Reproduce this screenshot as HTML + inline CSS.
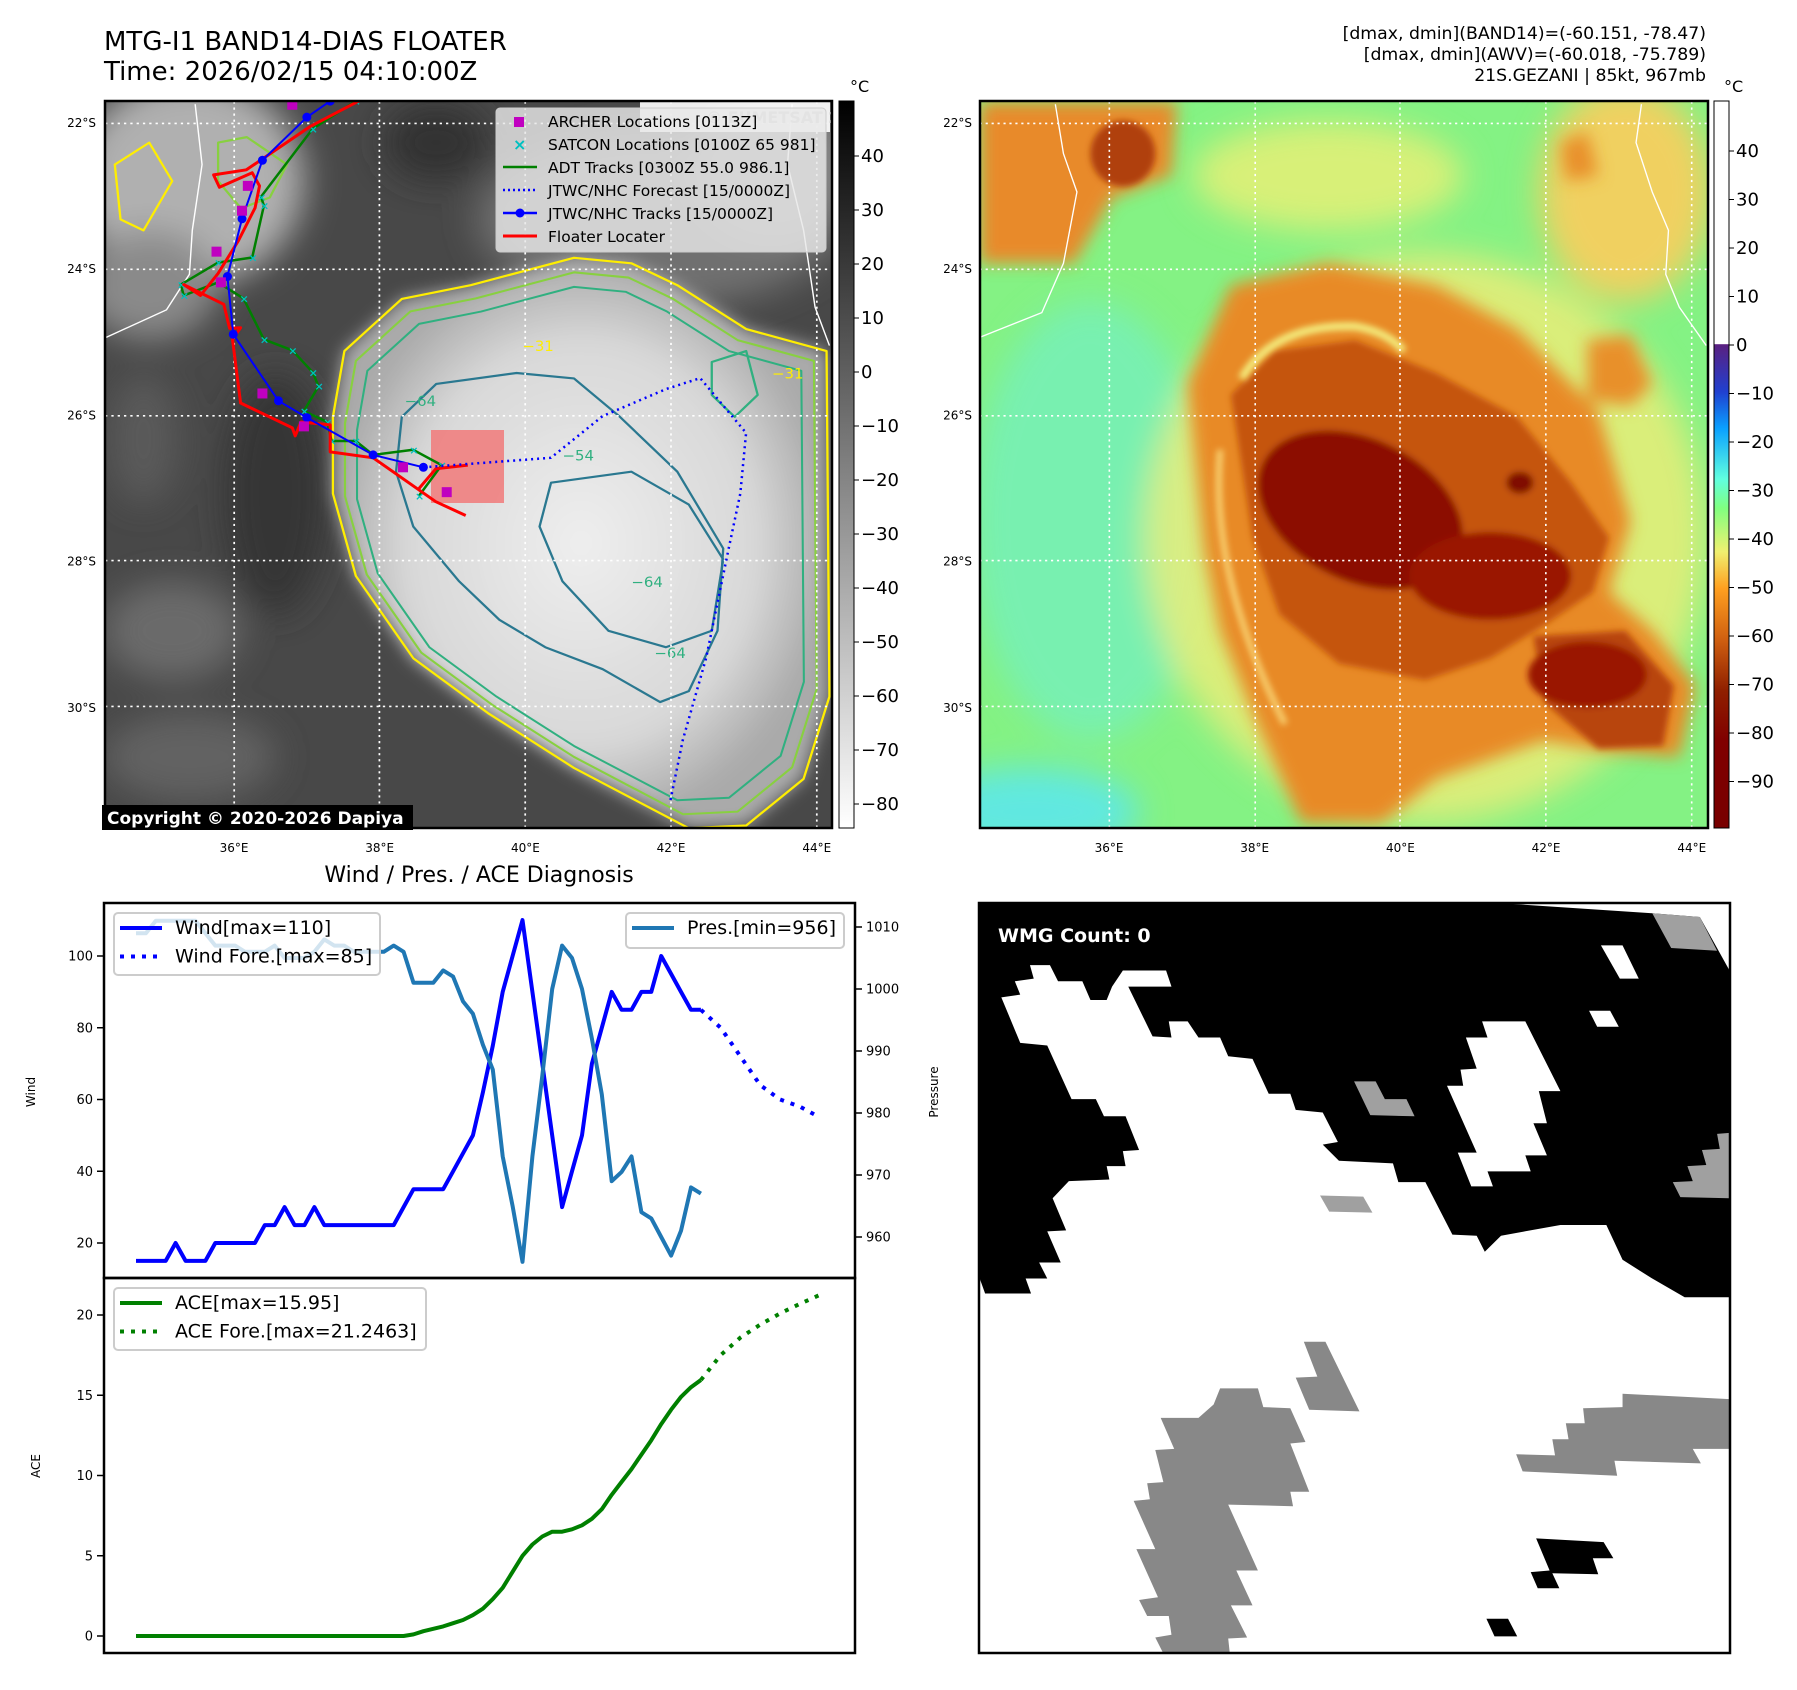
<!DOCTYPE html>
<html><head><meta charset="utf-8">
<style>
html,body{margin:0;padding:0;background:#fff;}
body{width:1797px;height:1690px;overflow:hidden;font-family:"Liberation Sans","DejaVu Sans",sans-serif;}
svg{position:absolute;left:0;top:0;}
text{font-family:"DejaVu Sans","Liberation Sans",sans-serif;}
</style></head>
<body>
<svg id="main" width="1797" height="1690" viewBox="0 0 1797 1690">
<defs>
  <clipPath id="clipL"><rect x="105" y="101" width="727" height="727"/></clipPath>
  <clipPath id="clipR"><rect x="980" y="101" width="728" height="727"/></clipPath>
  <clipPath id="clipW"><rect x="979" y="903" width="751" height="750"/></clipPath>
  <filter id="b6" x="-20%" y="-20%" width="140%" height="140%"><feGaussianBlur stdDeviation="6"/></filter>
  <filter id="b15" x="-30%" y="-30%" width="160%" height="160%"><feGaussianBlur stdDeviation="15"/></filter>
  <filter id="b30" x="-30%" y="-30%" width="160%" height="160%"><feGaussianBlur stdDeviation="30"/></filter>
  <linearGradient id="cbGray" x1="0" y1="0" x2="0" y2="1">
    <stop offset="0" stop-color="#000"/><stop offset="1" stop-color="#fff"/>
  </linearGradient>
  <linearGradient id="cbColor" x1="0" y1="101" x2="0" y2="828" gradientUnits="userSpaceOnUse">
    <stop offset="0" stop-color="#ffffff"/>
    <stop offset="0.334" stop-color="#ffffff"/>
    <stop offset="0.335" stop-color="#5a2080"/>
    <stop offset="0.40" stop-color="#2040d0"/>
    <stop offset="0.45" stop-color="#0aa0ff"/>
    <stop offset="0.52" stop-color="#60ffe0"/>
    <stop offset="0.56" stop-color="#80ff80"/>
    <stop offset="0.62" stop-color="#f0f070"/>
    <stop offset="0.67" stop-color="#ffa020"/>
    <stop offset="0.74" stop-color="#d06010"/>
    <stop offset="0.81" stop-color="#902000"/>
    <stop offset="0.88" stop-color="#800000"/>
    <stop offset="1" stop-color="#780000"/>
  </linearGradient>
  <radialGradient id="cloudL" cx="0.5" cy="0.5" r="0.5">
    <stop offset="0" stop-color="#eeeeee"/><stop offset="0.7" stop-color="#d8d8d8"/><stop offset="1" stop-color="#aaaaaa"/>
  </radialGradient>
</defs>

<text x="104" y="50" font-size="26" fill="#000">MTG-I1 BAND14-DIAS FLOATER</text>
<text x="104" y="80" font-size="26" fill="#000">Time: 2026/02/15 04:10:00Z</text>
<g font-size="17.3" text-anchor="end" fill="#000">
  <text x="1706" y="39">[dmax, dmin](BAND14)=(-60.151, -78.47)</text>
  <text x="1706" y="60">[dmax, dmin](AWV)=(-60.018, -75.789)</text>
  <text x="1706" y="81">21S.GEZANI | 85kt, 967mb</text>
</g>

<!-- LEFT MAP -->
<g clip-path="url(#clipL)">
  <rect x="105" y="101" width="727" height="727" fill="#484848"/>
  <g transform="scale(0.574,0.5485)">
    <g filter="url(#b30)">
      <ellipse cx="330" cy="330" rx="200" ry="190" fill="#b0b0b0"/>
      <ellipse cx="260" cy="520" rx="120" ry="100" fill="#8a8a8a"/>
      <ellipse cx="1150" cy="400" rx="320" ry="160" fill="#707070"/>
      <ellipse cx="1350" cy="300" rx="150" ry="140" fill="#858585"/>
      <ellipse cx="300" cy="1150" rx="120" ry="90" fill="#6a6a6a"/>
      <ellipse cx="330" cy="1380" rx="150" ry="80" fill="#626262"/>
      <ellipse cx="760" cy="260" rx="90" ry="70" fill="#333"/>
      <ellipse cx="480" cy="900" rx="90" ry="220" fill="#353535"/>
      <ellipse cx="250" cy="800" rx="60" ry="120" fill="#5a5a5a"/>
    </g>
    <path d="M600,640 L700,545 L820,520 L1000,470 L1100,480 L1180,520 L1300,600 L1440,640 L1445,1270 L1400,1420 L1300,1505 L1200,1510 L1000,1400 L850,1300 L720,1200 L620,1050 L580,900 L580,760 Z" fill="url(#cloudL)" filter="url(#b15)"/>
    <g fill="none" stroke-width="4" stroke-linejoin="round">
      <path d="M600,640 L700,545 L820,520 L1000,470 L1100,480 L1180,520 L1300,600 L1440,640 L1445,1270 L1400,1420 L1300,1505 L1200,1510 L1000,1400 L850,1300 L720,1200 L620,1050 L580,900 L580,760 Z" stroke="#ffee00"/>
      <path d="M600,640 L700,545 L820,520 L1000,470 L1100,480 L1180,520 L1300,600 L1440,640 L1445,1270 L1400,1420 L1300,1505 L1200,1510 L1000,1400 L850,1300 L720,1200 L620,1050 L580,900 L580,760 Z" stroke="#88d040" transform="translate(1000,1000) scale(0.95) translate(-1000,-1000)"/>
      <path d="M600,640 L700,545 L820,520 L1000,470 L1100,480 L1180,520 L1300,600 L1440,640 L1445,1270 L1400,1420 L1300,1505 L1200,1510 L1000,1400 L850,1300 L720,1200 L620,1050 L580,900 L580,760 Z" stroke="#30b080" transform="translate(1000,1000) scale(0.9) translate(-1000,-1000)"/>
      <path d="M700,760 L760,700 L900,680 L1000,690 L1080,760 L1180,860 L1260,1000 L1250,1150 L1200,1260 L1150,1280 L1050,1220 L950,1180 L870,1130 L800,1060 L720,960 L690,860 Z" stroke="#2a7890"/>
      <path d="M960,880 L1100,860 L1200,920 L1260,1020 L1240,1150 L1160,1180 L1060,1150 L980,1060 L940,960 Z" stroke="#2a7890"/>
      <path d="M380,260 L430,250 L500,300 L470,360 L420,380 L380,330 Z" stroke="#88d040"/>
      <path d="M200,300 L260,260 L300,330 L250,420 L210,400 Z" stroke="#ffee00"/>
      <path d="M1240,660 L1300,640 L1320,720 L1280,760 L1240,720 Z" stroke="#30b080"/>
    </g>
    <g font-size="26" fill="#30b080">
      <text x="705" y="740">−64</text><text x="980" y="840">−54</text><text x="1100" y="1070">−64</text><text x="1140" y="1200">−64</text>
    </g>
    <g font-size="26" fill="#ffee00"><text x="910" y="640">−31</text><text x="1345" y="690">−31</text></g>
    <g fill="none" stroke="#fff" stroke-width="2.5">
      <path d="M340,190 L352,300 L335,420 L330,500 L290,565 L185,615"/>
      <path d="M1380,190 L1372,300 L1400,420 L1420,560 L1445,630"/>
    </g>
    <g stroke="#fff" stroke-width="3" stroke-dasharray="4,7" fill="none">
      <line x1="408" y1="185" x2="408" y2="1510"/><line x1="661" y1="185" x2="661" y2="1510"/>
      <line x1="915" y1="185" x2="915" y2="1510"/><line x1="1169" y1="185" x2="1169" y2="1510"/>
      <line x1="1423" y1="185" x2="1423" y2="1510"/>
      <line x1="183" y1="225" x2="1450" y2="225"/><line x1="183" y1="491" x2="1450" y2="491"/>
      <line x1="183" y1="758" x2="1450" y2="758"/><line x1="183" y1="1022" x2="1450" y2="1022"/>
      <line x1="183" y1="1288" x2="1450" y2="1288"/>
    </g>
  </g>
  <rect x="431" y="430" width="73" height="73" fill="#f08080" opacity="0.9"/>
  <g id="tracks"></g>
  <rect x="640" y="102" width="190" height="30" fill="#fff" opacity="0.9"/>
  <text x="706" y="123" font-size="16" font-weight="bold" fill="#ccc">© EUMETSAT 2026</text>
</g>
<rect x="105" y="101" width="727" height="727" fill="none" stroke="#000" stroke-width="2.5"/>
<g>
  <rect x="496" y="108" width="330" height="144" rx="4" fill="#e8e8e8" fill-opacity="0.82" stroke="#ccc"/>
  <g font-size="15.5" fill="#000">
    <rect x="514" y="117" width="10" height="10" fill="#c000c0"/>
    <text x="548" y="127">ARCHER Locations [0113Z]</text>
    <text x="513" y="150" font-size="16" font-weight="bold" fill="#00c0c0">×</text>
    <text x="548" y="150">SATCON Locations [0100Z 65 981]</text>
    <line x1="503" y1="167" x2="537" y2="167" stroke="#008000" stroke-width="2.5"/>
    <text x="548" y="173">ADT Tracks [0300Z 55.0 986.1]</text>
    <line x1="503" y1="190" x2="537" y2="190" stroke="#0000ff" stroke-width="2.5" stroke-dasharray="2,3"/>
    <text x="548" y="196">JTWC/NHC Forecast [15/0000Z]</text>
    <line x1="503" y1="213" x2="537" y2="213" stroke="#0000ff" stroke-width="2.5"/>
    <circle cx="520" cy="213" r="4.5" fill="#0000ff"/>
    <text x="548" y="219">JTWC/NHC Tracks [15/0000Z]</text>
    <line x1="503" y1="236" x2="537" y2="236" stroke="#ff0000" stroke-width="3"/>
    <text x="548" y="242">Floater Locater</text>
  </g>
</g>
<rect x="102" y="805" width="311" height="25" fill="#000"/>
<text x="107" y="824" font-size="17" font-weight="bold" fill="#fff">Copyright © 2020-2026 Dapiya</text>

<g>
  <rect x="839" y="101" width="15" height="727" fill="url(#cbGray)" stroke="#000" stroke-width="1"/>
  <text x="850" y="92" font-size="16">°C</text>
  <g id="cbLticks" font-size="18"></g>
</g>

<!-- RIGHT MAP -->
<g clip-path="url(#clipR)">
  <rect x="980" y="101" width="728" height="727" fill="#84f284"/>
  <g transform="translate(950,0) scale(0.5402,0.5485)">
    <g filter="url(#b30)">
      <ellipse cx="260" cy="950" rx="220" ry="400" fill="#78f0b0"/>
      <ellipse cx="150" cy="1480" rx="200" ry="80" fill="#60e8e0"/>
      <ellipse cx="880" cy="980" rx="520" ry="520" fill="#f0ec78" opacity="0.8"/>
      <ellipse cx="700" cy="320" rx="250" ry="100" fill="#d8f078"/>
      <ellipse cx="1250" cy="350" rx="160" ry="200" fill="#f0d060"/>
    </g>
    <g filter="url(#b15)">
      <path d="M55,185 L420,185 L410,320 L300,360 L230,480 L55,480 Z" fill="#e88a2a"/>
      <path d="M470,1000 L440,700 L520,520 L700,480 L900,520 L1050,600 L1200,750 L1260,950 L1220,1080 L1300,1150 L1380,1250 L1350,1380 L1220,1370 L1100,1350 L900,1420 L800,1500 L650,1500 L560,1300 L500,1150 Z" fill="#e88a25"/>
      <path d="M1180,620 L1260,610 L1300,700 L1260,740 L1180,730 Z" fill="#e8902a"/>
      <path d="M1130,260 L1180,240 L1200,320 L1140,330 Z" fill="#e8902a"/>
    </g>
    <g filter="url(#b6)">
      <path d="M520,720 L600,640 L750,620 L900,680 L1050,760 L1150,880 L1220,980 L1190,1080 L1100,1140 L1000,1200 L880,1240 L720,1210 L610,1120 L560,980 L540,850 Z" fill="#c55510"/>
      <path d="M1080,1160 L1250,1150 L1340,1250 L1320,1360 L1200,1365 L1100,1280 Z" fill="#b84408"/>
      <ellipse cx="760" cy="930" rx="200" ry="130" transform="rotate(25 760 930)" fill="#8c0c00"/>
      <ellipse cx="1000" cy="1050" rx="150" ry="80" fill="#9a1800"/>
      <ellipse cx="1180" cy="1230" rx="110" ry="60" fill="#9a1800"/>
      <ellipse cx="320" cy="280" rx="60" ry="60" fill="#b04010"/>
      <ellipse cx="1055" cy="880" rx="25" ry="20" fill="#801000"/>
    </g>
    <path d="M540,690 Q600,590 750,595 Q810,605 840,640" fill="none" stroke="#f4f080" stroke-width="14" filter="url(#b6)"/>
    <path d="M500,820 Q480,1050 620,1320" fill="none" stroke="#f8d070" stroke-width="12" filter="url(#b6)"/>
    <g fill="none" stroke="#fff" stroke-width="2.5">
      <path d="M195,190 L210,280 L235,350 L210,480 L170,570 L55,615"/>
      <path d="M1280,190 L1270,260 L1300,350 L1330,420 L1325,500 L1350,560 L1400,630"/>
    </g>
    <g stroke="#fff" stroke-width="3" stroke-dasharray="4,7" fill="none">
      <line x1="295" y1="185" x2="295" y2="1510"/><line x1="565" y1="185" x2="565" y2="1510"/>
      <line x1="833" y1="185" x2="833" y2="1510"/><line x1="1103" y1="185" x2="1103" y2="1510"/>
      <line x1="1373" y1="185" x2="1373" y2="1510"/>
      <line x1="55" y1="225" x2="1402" y2="225"/><line x1="55" y1="491" x2="1402" y2="491"/>
      <line x1="55" y1="758" x2="1402" y2="758"/><line x1="55" y1="1022" x2="1402" y2="1022"/>
      <line x1="55" y1="1288" x2="1402" y2="1288"/>
    </g>
  </g>
</g>
<rect x="980" y="101" width="728" height="727" fill="none" stroke="#000" stroke-width="2.5"/>
<g>
  <rect x="1714" y="101" width="15" height="727" fill="url(#cbColor)" stroke="#000" stroke-width="1"/>
  <text x="1724" y="92" font-size="16">°C</text>
  <g id="cbRticks" font-size="18"></g>
</g>
<g id="mapTicks" font-size="12" fill="#000"></g>

<!-- WMG panel -->
<g clip-path="url(#clipW)">
  <rect x="979" y="903" width="751" height="750" fill="#fff"/>
  <g transform="translate(950,850) scale(0.5402,0.5357)">
    <path fill="#000" d="M55,98 L1443,98 L1443,835 L1360,835 L1300,800 L1245,765 L1215,700 L1130,700 L1020,720 L990,750 L975,720 L930,718 L880,620 L830,620 L820,585 L720,580 L690,550 L718,545 L690,490 L640,485 L630,455 L590,455 L560,390 L515,385 L500,350 L460,350 L440,320 L405,320 L410,350 L375,348 L330,255 L410,255 L400,225 L320,225 L300,255 L290,280 L260,280 L245,245 L200,245 L185,215 L148,215 L155,240 L120,245 L130,270 L95,275 L130,360 L180,365 L225,465 L270,465 L285,497 L325,497 L350,560 L320,562 L325,590 L290,590 L295,615 L220,618 L190,650 L215,710 L180,712 L205,770 L165,770 L180,800 L140,800 L150,828 L65,828 L55,800 Z"/>
    <g fill="#fff">
      <path d="M985,320 L1065,320 L1130,450 L1090,450 L1105,510 L1080,510 L1105,570 L1065,570 L1075,600 L995,600 L1005,628 L965,628 L940,565 L975,565 L920,440 L950,440 L945,410 L975,408 L955,350 L995,350 Z"/>
      <path d="M1205,178 L1245,178 L1275,240 L1240,240 Z"/>
      <path d="M1183,300 L1222,300 L1238,330 L1198,330 Z"/>
      <path d="M1000,98 L1443,98 L1443,225 L1388,125 L1300,118 Z"/>
    </g>
    <g fill="#a0a0a0">
      <path d="M1300,118 L1388,125 L1420,188 L1335,183 Z"/>
      <path d="M748,432 L788,432 L805,465 L845,465 L860,497 L778,495 Z"/>
      <path d="M685,645 L765,647 L782,677 L702,675 Z"/>
      <path d="M1420,530 L1443,528 L1443,650 L1352,648 L1338,620 L1375,618 L1365,590 L1400,588 L1392,560 L1425,558 Z"/>
    </g>
    <g fill="#888">
      <path d="M390,1060 L460,1060 L488,1035 L500,1005 L570,1005 L580,1040 L630,1042 L658,1105 L630,1108 L665,1198 L630,1198 L635,1225 L515,1222 L570,1345 L530,1345 L560,1410 L520,1410 L550,1470 L515,1472 L518,1500 L395,1500 L380,1470 L410,1465 L405,1430 L365,1430 L350,1400 L385,1395 L345,1305 L380,1305 L340,1215 L370,1212 L365,1182 L395,1180 L380,1120 L415,1118 Z"/>
      <path d="M655,918 L695,918 L758,1048 L665,1045 L640,985 L680,983 Z"/>
      <path d="M1245,1015 L1443,1025 L1443,1118 L1375,1118 L1390,1145 L1230,1140 L1235,1168 L1060,1160 L1048,1128 L1120,1130 L1115,1100 L1145,1100 L1140,1070 L1175,1070 L1172,1042 L1245,1040 Z"/>
    </g>
    <g fill="#000">
      <path d="M1085,1285 L1210,1292 L1228,1322 L1190,1322 L1200,1352 L1115,1350 L1128,1378 L1088,1378 L1075,1348 L1110,1345 Z"/>
      <path d="M993,1435 L1033,1435 L1050,1468 L1008,1468 Z"/>
    </g>
  </g>
  <text x="998" y="942" font-size="19" font-weight="bold" fill="#fff">WMG Count: 0</text>
</g>
<rect x="979" y="903" width="751" height="750" fill="none" stroke="#000" stroke-width="2.5"/>

<text x="479" y="882" font-size="22" text-anchor="middle">Wind / Pres. / ACE Diagnosis</text>
<g id="chart"></g>
<rect x="104" y="903" width="751" height="375" fill="none" stroke="#000" stroke-width="2.5"/>
<rect x="104" y="1278" width="751" height="375" fill="none" stroke="#000" stroke-width="2.5"/>
<text transform="translate(35,1092) rotate(-90)" font-size="12" text-anchor="middle">Wind</text>
<text transform="translate(40,1466) rotate(-90)" font-size="12" text-anchor="middle">ACE</text>
<text transform="translate(938,1092) rotate(-90)" font-size="12" text-anchor="middle">Pressure</text>
</svg>

<script>
const windVals = [15,15,15,15,20,15,15,15,20,20,20,20,20,25,25,30,25,25,30,25,25,25,25,25,25,25,25,30,35,35,35,35,40,45,50,62,75,90,100,110,90,70,50,30,40,50,70,80,90,85,85,90,90,100,95,90,85,85];
const windForeIdx = [57,59,61,63,65,67,69];
const windForeVals = [85,80,72,64,60,58,55];
const presVals = [1009,1009,1011,1011,1011,1011,1011,1009,1007,1007,1007,1006,1006,1006,1007,1005,1005,1005,1006,1008,1007,1007,1006,1006,1006,1006,1007,1006,1001,1001,1001,1003,1002,998,996,991,987,973,965,956,973,986,1000,1007,1005,1000,992,983,969,970.5,973,964,963,960,957,961,968,967];
const aceVals = [0,0,0,0,0,0,0,0,0,0,0,0,0,0,0,0,0,0,0,0,0,0,0,0,0,0,0,0,0.1,0.3,0.45,0.6,0.8,1.0,1.3,1.7,2.3,3.0,4.0,5.0,5.7,6.2,6.5,6.5,6.65,6.9,7.3,7.9,8.8,9.6,10.4,11.3,12.2,13.2,14.1,14.9,15.5,15.95];
const aceForeIdx = [57,59,61,63,65,67,69];
const aceForeVals = [15.95,17.5,18.6,19.4,20.1,20.7,21.25];
const windTicks = [20,40,60,80,100];
const presTicks = [960,970,980,990,1000,1010];
const aceTicks = [0,5,10,15,20];

const jtwcLon = [37.32,37.00,36.39,36.11,35.91,35.99,36.61,37.00,37.91,38.60];
const jtwcLat = [21.70,21.92,22.51,23.31,24.10,24.89,25.80,26.03,26.54,26.71];
const foreLon = [38.60,40.35,41.06,41.93,42.40,43.03,42.95,42.79,42.48,42.16,41.99];
const foreLat = [26.71,26.58,26.01,25.64,25.49,26.24,27.07,27.82,29.32,30.44,31.27];
const floaterLon = [37.71,37.04,36.17,35.72,35.80,36.25,36.35,36.29,36.06,35.78,35.54,35.31,35.86,35.94,36.09,35.98,36.09,36.80,36.84,36.92,37.32,37.32,37.91,38.77,39.18];
const floaterLat = [21.70,22.05,22.64,22.71,22.88,22.68,22.86,23.16,23.61,24.06,24.36,24.21,24.48,24.81,24.80,24.96,25.83,26.17,26.28,26.09,26.13,26.50,26.58,27.18,27.37];
const floater2Lon = [38.54,38.77,39.21];
const floater2Lat = [27.00,26.73,26.68];
const adtLon = [37.67,37.08,36.37,36.41,36.25,35.78,35.27,35.31,35.78,36.13,36.41,36.80,37.08,37.16,36.96,37.28,37.34,37.67,37.91,38.46,38.85,38.54];
const adtLat = [21.70,22.08,23.01,23.13,23.84,23.91,24.21,24.36,24.18,24.40,24.96,25.11,25.41,25.60,25.94,26.09,26.35,26.35,26.54,26.47,26.68,27.10];
const archerLon = [36.80,36.19,36.11,35.76,35.82,36.39,36.96,38.32,38.92];
const archerLat = [21.75,22.86,23.20,23.76,24.18,25.70,26.15,26.71,27.05];
const lonTicks = [36,38,40,42,44];
const latTicks = [22,24,26,28,30];
const cbLTicks = [40,30,20,10,0,-10,-20,-30,-40,-50,-60,-70,-80];
const cbRTicks = [40,30,20,10,0,-10,-20,-30,-40,-50,-60,-70,-80,-90];

const NS = 'http://www.w3.org/2000/svg';
function mk(tag, attrs, parent){ const e=document.createElementNS(NS,tag); for(const k in attrs) e.setAttribute(k,attrs[k]); parent.appendChild(e); return e; }

const xIdx = i => 136 + 9.91*i;
const yWind = w => 1243 - (w-20)*3.5875;
const yPres = p => 927 + (1010-p)*6.2;
const yAce = a => 1636 - a*16.05;
const chart = document.getElementById('chart');

function poly(xs, ys, attrs, name){
  const pts = xs.map((x,i)=>x.toFixed(1)+','+ys[i].toFixed(1)).join(' ');
  const el = mk('polyline', Object.assign({points:pts, fill:'none'}, attrs), chart);
  
  
  return el;
}
poly(windVals.map((v,i)=>xIdx(i)), windVals.map(yWind), {stroke:'#0000ff','stroke-width':4,'stroke-linejoin':'round'}, 'wind-line');
poly(windForeIdx.map(xIdx), windForeVals.map(yWind), {stroke:'#0000ff','stroke-width':4,'stroke-dasharray':'4,7'}, 'wind-forecast-line');
poly(presVals.map((v,i)=>xIdx(i)), presVals.map(yPres), {stroke:'#1f77b4','stroke-width':4,'stroke-linejoin':'round'}, 'pressure-line');
poly(aceVals.map((v,i)=>xIdx(i)), aceVals.map(yAce), {stroke:'#008000','stroke-width':4,'stroke-linejoin':'round'}, 'ace-line');
poly(aceForeIdx.map(xIdx), aceForeVals.map(yAce), {stroke:'#008000','stroke-width':4,'stroke-dasharray':'4,7'}, 'ace-forecast-line');

function tick(x1,y,x2,label,tx,anchor,name){
  const l = mk('line',{x1:x1,y1:y,x2:x2,y2:y,stroke:'#000','stroke-width':1.5},chart);
  
  
  const t = mk('text',{x:tx,y:y+4.5,'font-size':13,'text-anchor':anchor},chart);
  
  
  t.textContent = label;
}
windTicks.forEach(v=>tick(97,yWind(v),104,v,93,'end','wind-tick'));
presTicks.forEach(v=>tick(855,yPres(v),862,v,866,'start','pressure-tick'));
aceTicks.forEach(v=>tick(97,yAce(v),104,v,93,'end','ace-tick'));

function legend(x,y,w,h,items,name){
  const g = mk('g',{},chart);
  
  
  mk('rect',{x:x,y:y,width:w,height:h,rx:4,fill:'#fff','fill-opacity':0.8,stroke:'#ccc','stroke-width':2},g);
  items.forEach((it,k)=>{
    const cy = y+15+k*28.5;
    mk('line',Object.assign({x1:x+6,y1:cy,x2:x+48,y2:cy,stroke:it.c,'stroke-width':4},it.dash?{'stroke-dasharray':'4,7'}:{}),g);
    const t = mk('text',{x:x+61,y:cy+6,'font-size':19},g);
    t.textContent = it.t;
  });
}
legend(114,913,266,62,[{c:'#0000ff',t:'Wind[max=110]'},{c:'#0000ff',t:'Wind Fore.[max=85]',dash:1}],'wind-legend');
legend(626,913,218,35,[{c:'#1f77b4',t:'Pres.[min=956]'}],'pressure-legend');
legend(114,1288,312,62,[{c:'#008000',t:'ACE[max=15.95]'},{c:'#008000',t:'ACE Fore.[max=21.2463]',dash:1}],'ace-legend');

const mx = lon => 234 + (lon-36)*72.85;
const my = lat => 123 + (lat-22)*73.1;
const tg = document.getElementById('tracks');
function track(lons,lats,attrs,name){
  const pts = lons.map((l,i)=>mx(l).toFixed(1)+','+my(lats[i]).toFixed(1)).join(' ');
  const el = mk('polyline',Object.assign({points:pts,fill:'none','stroke-linejoin':'round'},attrs),tg);
  
  
}
track(adtLon,adtLat,{stroke:'#008000','stroke-width':2.5},'adt-track');
adtLon.forEach((l,i)=>{
  const t = mk('text',{x:mx(l)-4,y:my(adtLat[i])+4,'font-size':11,'font-weight':'bold',fill:'#00c0c0'},tg);
  
  
  t.textContent='×';
});
track(floaterLon,floaterLat,{stroke:'#ff0000','stroke-width':3},'floater-track');
track(floater2Lon,floater2Lat,{stroke:'#ff0000','stroke-width':3},'floater-track-branch');
track(jtwcLon,jtwcLat,{stroke:'#0000ff','stroke-width':2},'jtwc-track');
jtwcLon.forEach((l,i)=>{
  const c = mk('circle',{cx:mx(l),cy:my(jtwcLat[i]),r:4.5,fill:'#0000ff'},tg);
  
  
});
track(foreLon,foreLat,{stroke:'#0000ff','stroke-width':2.5,'stroke-dasharray':'2,4'},'jtwc-forecast-track');
archerLon.forEach((l,i)=>{
  const r = mk('rect',{x:mx(l)-5,y:my(archerLat[i])-5,width:10,height:10,fill:'#c000c0'},tg);
  
  
});

const mt = document.getElementById('mapTicks');
[[0,234,96],[875,1109,972]].forEach(([dx,lx0,latX])=>{
  lonTicks.forEach(v=>{
    const t = mk('text',{x:(lx0+(v-36)*72.85).toFixed(1),y:852,'text-anchor':'middle'},mt);
    
    
    t.textContent = v+'°E';
  });
  latTicks.forEach(v=>{
    const t = mk('text',{x:latX,y:(my(v)+4).toFixed(1),'text-anchor':'end'},mt);
    
    
    t.textContent = v+'°S';
  });
});
const cbl = document.getElementById('cbLticks');
cbLTicks.forEach(v=>{
  const y = 156 + (40-v)*5.4;
  mk('line',{x1:854,y1:y,x2:859,y2:y,stroke:'#000'},cbl);
  const t = mk('text',{x:861,y:y+6},cbl);
  
  
  t.textContent = v<0?'−'+(-v):v;
});
const cbr = document.getElementById('cbRticks');
cbRTicks.forEach(v=>{
  const y = 151 + (40-v)*4.85;
  mk('line',{x1:1729,y1:y,x2:1734,y2:y,stroke:'#000'},cbr);
  const t = mk('text',{x:1736,y:y+6},cbr);
  
  
  t.textContent = v<0?'−'+(-v):v;
});
</script>
</body></html>
